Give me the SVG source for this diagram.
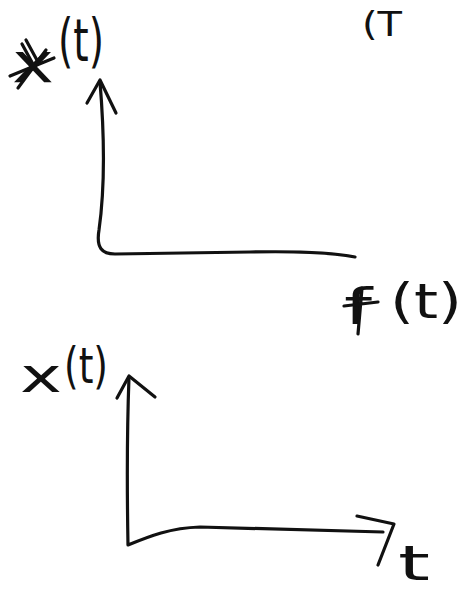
<svg xmlns="http://www.w3.org/2000/svg" width="474" height="592" viewBox="0 0 474 592">
<style>
.ink{fill:none;stroke:#111;stroke-width:3.2;stroke-linecap:round;stroke-linejoin:round}
.lbl{font-family:"DejaVu Sans","Liberation Sans",sans-serif;fill:#111;font-weight:normal}
</style>
<rect width="474" height="592" fill="#fff"/>
<g id="partial-top">
<text class="lbl" x="362" y="36" font-size="34" textLength="40" lengthAdjust="spacingAndGlyphs">(T</text>
</g>
<g id="label-x-top">
<text class="lbl" x="12" y="82" font-size="56" font-weight="bold" textLength="42" lengthAdjust="spacingAndGlyphs">x</text>
<path class="ink" d="M10 76 L54 58 M18 88 L46 50 M26 40 L38 62 M22 44 L34 66" stroke-width="6"/>
<text class="lbl" x="58" y="61" font-size="58" textLength="46" lengthAdjust="spacingAndGlyphs">(t)</text>
</g>
<g id="label-f">
<text class="lbl" x="344" y="324" font-size="50" textLength="28" lengthAdjust="spacingAndGlyphs">f</text>
<path class="ink" d="M344 306 L378 302 M362 288 L358 334" stroke-width="4"/>
<text class="lbl" x="390" y="318" font-size="48" textLength="72" lengthAdjust="spacingAndGlyphs">(t)</text>
</g>
<g id="label-x-bottom">
<text class="lbl" x="20" y="392" font-size="48" textLength="42" lengthAdjust="spacingAndGlyphs">x</text>
<text class="lbl" x="64" y="383" font-size="50" textLength="44" lengthAdjust="spacingAndGlyphs">(t)</text>
</g>
<g id="label-t">
<text class="lbl" x="398" y="580" font-size="48" textLength="32" lengthAdjust="spacingAndGlyphs">t</text>
</g>
<g id="connectors">
<path class="ink" d="M100 82 C104 130 106 180 99 230 C96 248 102 254 115 254 L250 252 C300 251 330 252 355 257"/>
<path class="ink" d="M87 103 L100 80 L116 113"/>
<path class="ink" d="M129 377 C127 430 127 490 128 545 C150 536 170 528 200 527 L383 532"/>
<path class="ink" d="M117 398 L129 376 L155 397"/>
<path class="ink" d="M357 516 L394 524 L378 565"/>
</g>
</svg>
